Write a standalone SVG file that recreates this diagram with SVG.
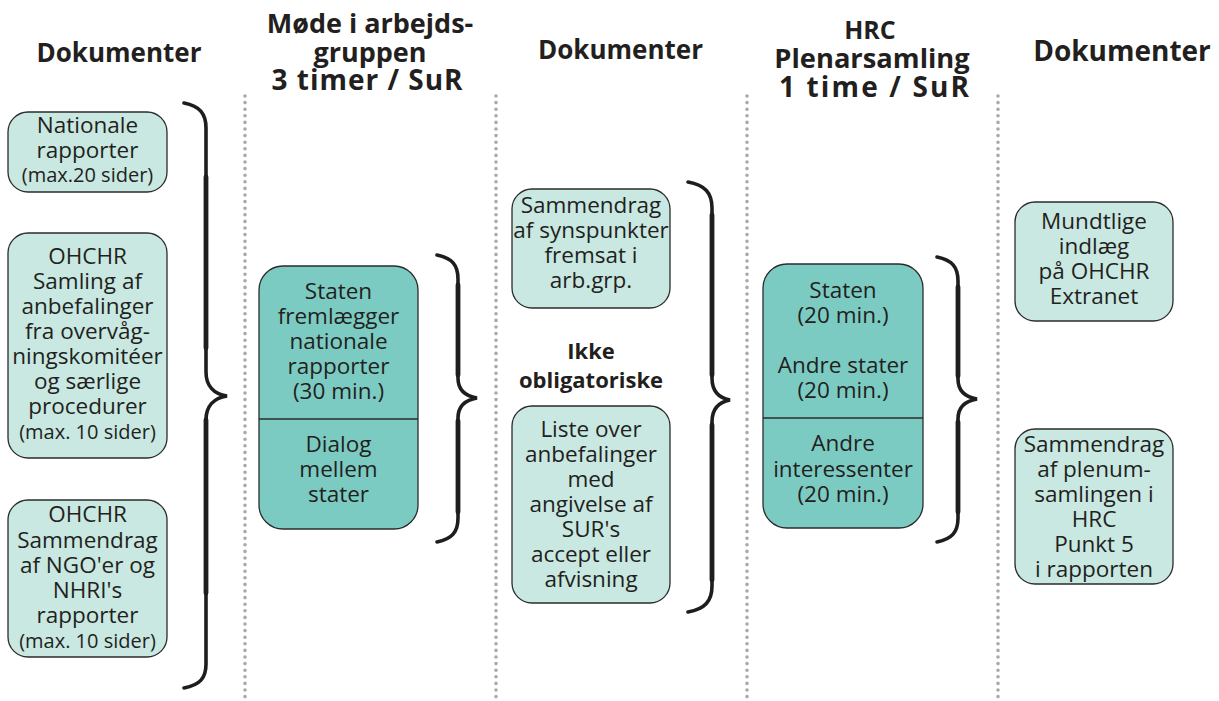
<svg xmlns="http://www.w3.org/2000/svg" width="1219" height="701" viewBox="0 0 1219 701">
<style>
.bg{fill:#ffffff}
.h{font-family:"Open Sans","Liberation Sans",sans-serif;font-weight:700;fill:#231f20;text-anchor:middle}
.t{font-family:"Open Sans","Liberation Sans",sans-serif;font-size:22.5px;fill:#231f20;text-anchor:middle}
.s{font-size:20px}
.b{font-family:"Open Sans","Liberation Sans",sans-serif;font-weight:700;font-size:22px;fill:#231f20;text-anchor:middle}
.lt{fill:#c8e8e1;stroke:#2b2b2b;stroke-width:1.3}
.tl{fill:#7ccbc2;stroke:#2b2b2b;stroke-width:1.3}
.div{stroke:#2b2b2b;stroke-width:1.3}
.dot{stroke:#a9a9a9;stroke-width:3.6;stroke-linecap:round;stroke-dasharray:0 6.6}
.br{fill:none;stroke:#1e1e1e;stroke-width:3.6;stroke-linecap:round}
.bt{stroke:#1e1e1e;stroke-width:4.8;stroke-linecap:round}
</style>
<rect class="bg" x="0" y="0" width="1219" height="701"/>

<g id="separators">
<line class="dot" x1="245" y1="96" x2="245" y2="701"/>
<line class="dot" x1="496" y1="96" x2="496" y2="701"/>
<line class="dot" x1="747" y1="96" x2="747" y2="701"/>
<line class="dot" x1="998" y1="96" x2="998" y2="701"/>
</g>

<g id="headers">
<text class="h" x="119" y="62" font-size="26">Dokumenter</text>
<text class="h" x="370" y="33" font-size="27">Møde i arbejds-</text>
<text class="h" x="370" y="62" font-size="27">gruppen</text>
<text class="h" x="367" y="90" font-size="28" textLength="191">3 timer / SuR</text>
<text class="h" x="620.5" y="59" font-size="26">Dokumenter</text>
<text class="h" x="870" y="39" font-size="25">HRC</text>
<text class="h" x="872" y="68" font-size="27.3">Plenarsamling</text>
<text class="h" x="874" y="97" font-size="28" textLength="190">1 time / SuR</text>
<text class="h" x="1122" y="61" font-size="28">Dokumenter</text>
</g>

<g id="connectors">
<path class="br" d="M184,103 C200,106 206,114 206,128 L206,372 C206,386 214,394 227,396 C214,398 206,406 206,420 L206,664 C206,678 200,685 184,688"/>
<line class="bt" x1="206" y1="177" x2="206" y2="348"/>
<line class="bt" x1="206" y1="420" x2="206" y2="593"/>
<path class="br" d="M437,255 C452,258 458,265 458,279 L458,378 C458,390 465,396 477,398 C465,400 458,406 458,418 L458,518 C458,532 452,539 437,542"/>
<line class="bt" x1="458" y1="285" x2="458" y2="375"/>
<line class="bt" x1="458" y1="421" x2="458" y2="512"/>
<path class="br" d="M688,182 C705,185 712,193 712,208 L712,378 C712,391 719,398 730,400 C719,402 712,409 712,422 L712,586 C712,601 705,609 688,612"/>
<line class="bt" x1="712" y1="215" x2="712" y2="375"/>
<line class="bt" x1="712" y1="425" x2="712" y2="580"/>
<path class="br" d="M937,257 C952,260 958,267 958,281 L958,379 C958,391 965,397 977,399 C965,401 958,407 958,419 L958,518 C958,532 952,539 937,542"/>
<line class="bt" x1="958" y1="287" x2="958" y2="376"/>
<line class="bt" x1="958" y1="422" x2="958" y2="512"/>
</g>

<g id="n-nationale">
<rect class="lt" x="8" y="112" width="159" height="80" rx="20"/>
<text class="t"><tspan x="87.5" y="133">Nationale</tspan><tspan x="87.5" y="158">rapporter</tspan><tspan class="s" x="87.5" y="182">(max.20 sider)</tspan></text>
</g>

<g id="n-ohchr-samling">
<rect class="lt" x="8" y="233" width="159" height="225" rx="20"/>
<text class="t"><tspan x="87.5" y="264">OHCHR</tspan><tspan x="87.5" y="289">Samling af</tspan><tspan x="87.5" y="314">anbefalinger</tspan><tspan x="87.5" y="339">fra overvåg-</tspan><tspan x="87.5" y="364">ningskomitéer</tspan><tspan x="87.5" y="389">og særlige</tspan><tspan x="87.5" y="414">procedurer</tspan><tspan class="s" x="87.5" y="439">(max. 10 sider)</tspan></text>
</g>

<g id="n-ohchr-sammendrag">
<rect class="lt" x="8" y="500" width="159" height="157" rx="20"/>
<text class="t"><tspan x="87.5" y="522">OHCHR</tspan><tspan x="87.5" y="548">Sammendrag</tspan><tspan x="87.5" y="573">af NGO'er og</tspan><tspan x="87.5" y="598">NHRI's</tspan><tspan x="87.5" y="623">rapporter</tspan><tspan class="s" x="87.5" y="648">(max. 10 sider)</tspan></text>
</g>

<g id="n-arbejdsgruppe">
<rect class="tl" x="259" y="266" width="159" height="263" rx="24"/>
<line class="div" x1="259" y1="419" x2="418" y2="419"/>
<text class="t"><tspan x="338.5" y="299">Staten</tspan><tspan x="338.5" y="324">fremlægger</tspan><tspan x="338.5" y="349">nationale</tspan><tspan x="338.5" y="374">rapporter</tspan><tspan x="338.5" y="399">(30 min.)</tspan></text>
<text class="t"><tspan x="338.5" y="452">Dialog</tspan><tspan x="338.5" y="477">mellem</tspan><tspan x="338.5" y="502">stater</tspan></text>
</g>

<g id="n-sammendrag-synspunkter">
<rect class="lt" x="512" y="189" width="158" height="119" rx="20"/>
<text class="t"><tspan x="591" y="213">Sammendrag</tspan><tspan x="591" y="238">af synspunkter</tspan><tspan x="591" y="263">fremsat i</tspan><tspan x="591" y="288">arb.grp.</tspan></text>
</g>

<g id="n-ikke-obligatoriske">
<text class="b"><tspan x="591" y="359">Ikke</tspan><tspan x="591" y="388">obligatoriske</tspan></text>
</g>

<g id="n-liste">
<rect class="lt" x="512" y="406" width="158" height="197" rx="20"/>
<text class="t"><tspan x="591" y="437">Liste over</tspan><tspan x="591" y="462">anbefalinger</tspan><tspan x="591" y="487">med</tspan><tspan x="591" y="512">angivelse af</tspan><tspan x="591" y="537">SUR's</tspan><tspan x="591" y="562">accept eller</tspan><tspan x="591" y="587">afvisning</tspan></text>
</g>

<g id="n-plenarsamling">
<rect class="tl" x="763" y="264" width="160" height="264" rx="24"/>
<line class="div" x1="763" y1="418" x2="923" y2="418"/>
<text class="t"><tspan x="843" y="298">Staten</tspan><tspan x="843" y="323">(20 min.)</tspan><tspan x="843" y="373">Andre stater</tspan><tspan x="843" y="398">(20 min.)</tspan></text>
<text class="t"><tspan x="843" y="451">Andre</tspan><tspan x="843" y="477">interessenter</tspan><tspan x="843" y="502">(20 min.)</tspan></text>
</g>

<g id="n-mundtlige">
<rect class="lt" x="1015" y="202" width="158" height="119" rx="20"/>
<text class="t"><tspan x="1094" y="229">Mundtlige</tspan><tspan x="1094" y="254">indlæg</tspan><tspan x="1094" y="279">på OHCHR</tspan><tspan x="1094" y="304">Extranet</tspan></text>
</g>

<g id="n-sammendrag-plenum">
<rect class="lt" x="1015" y="429" width="158" height="155" rx="20"/>
<text class="t"><tspan x="1094" y="452">Sammendrag</tspan><tspan x="1094" y="477">af plenum-</tspan><tspan x="1094" y="502">samlingen i</tspan><tspan x="1094" y="527">HRC</tspan><tspan x="1094" y="552">Punkt 5</tspan><tspan x="1094" y="577">i rapporten</tspan></text>
</g>
</svg>
